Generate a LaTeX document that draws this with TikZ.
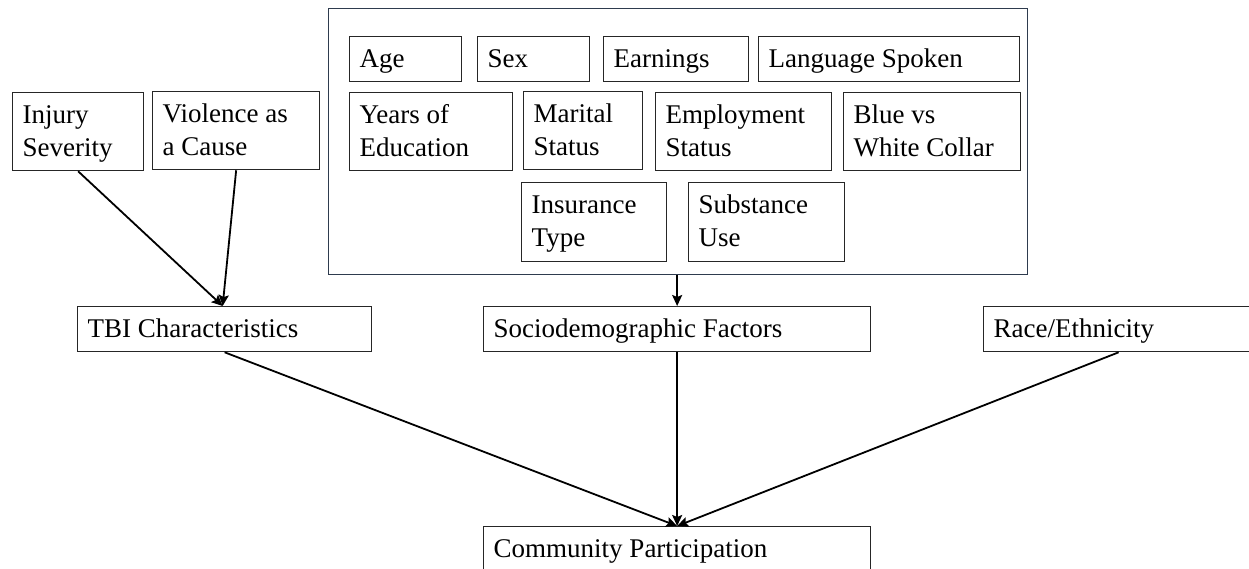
\documentclass[tikz,border=0pt]{standalone}
\usepackage{fontspec}
\setmainfont{Liberation Serif}
\usetikzlibrary{arrows.meta}
\definecolor{slateborder}{HTML}{2E3B4E}
\tikzset{
  boxst/.style={draw=black!85, line width=1.3pt, rectangle, inner sep=0pt, anchor=north west},
  outerst/.style={boxst, draw=slateborder},
  txtst/.style={anchor=north west, inner sep=0pt, align=left, font=\fontsize{27}{33}\selectfont},
  arr/.style={line width=1.8pt, -{Stealth[length=11pt,width=10pt,inset=2pt]}},
}
\newcommand\mkbox[6]{%
  \node[boxst, minimum width={#4-#2}, minimum height={#5-#3}] (#1) at (#2,#3) {};
  \node[txtst] (#1-t) at ([shift={(10.5pt,-7.9pt)}]#1.north west) {\strut #6};
}
\begin{document}
\begin{tikzpicture}[x=1pt,y=-1pt]
  \useasboundingbox (0,0) rectangle (1249,569);
  \clip (0,0) rectangle (1249,569);
  % outer group box
  \node[outerst, minimum width=699, minimum height=266] (outer) at (328,8) {};
  % sociodemographic items
  \mkbox{age}{349}{36}{461}{81}{Age}
  \mkbox{sex}{477}{36}{589}{81}{Sex}
  \mkbox{earn}{603}{36}{748}{81}{Earnings}
  \mkbox{lang}{758}{36}{1019}{81}{Language Spoken}
  \mkbox{edu}{349}{92}{512}{170}{Years of\\Education}
  \mkbox{marital}{523}{91}{642}{169}{Marital\\Status}
  \mkbox{employ}{655}{92}{831}{170}{Employment\\Status}
  \mkbox{collar}{843}{92}{1020}{170}{Blue vs\\White Collar}
  \mkbox{insur}{521}{182}{666}{261}{Insurance\\Type}
  \mkbox{subst}{688}{182}{844}{261}{Substance\\Use}
  % TBI items
  \mkbox{injury}{12}{92}{143}{170}{Injury\\Severity}
  \mkbox{violence}{152}{91}{319}{169}{Violence as\\a Cause}
  % middle row
  \mkbox{tbi}{77}{306}{371}{351}{TBI Characteristics}
  \mkbox{socio}{483}{306}{870}{351}{Sociodemographic Factors}
  \mkbox{race}{983}{306}{1253}{351}{Race/Ethnicity}
  % outcome
  \mkbox{comm}{483}{526}{870}{571}{Community Participation}
  % connectors
  \draw[arr] (injury.south) -- ([xshift=-2pt]tbi.north);
  \draw[arr] (violence.south) -- ([xshift=-2pt]tbi.north);
  \draw[arr] (outer.south -| socio.north) -- (socio.north);
  \draw[arr] (tbi.south) -- (comm.north);
  \draw[arr] (socio.south) -- (comm.north);
  \draw[arr] (race.south) -- (comm.north);
\end{tikzpicture}
\end{document}
